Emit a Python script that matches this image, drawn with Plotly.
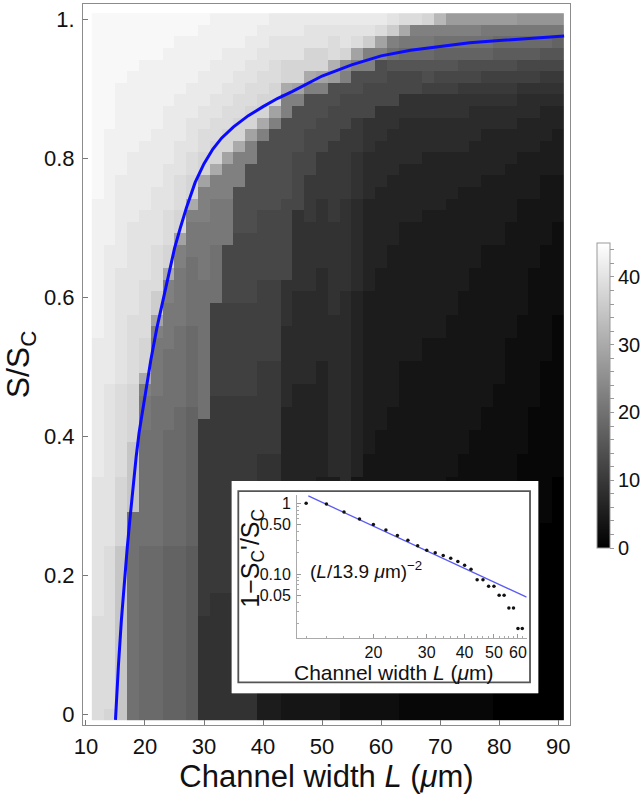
import plotly.graph_objects as go

# ---------------- data ----------------
L_COLS = [12, 14, 16, 18, 20, 22, 24, 26, 28, 30, 32, 34, 36, 38, 40, 42, 44, 46, 48, 50,
          52, 54, 56, 58, 60, 62, 64, 66, 68, 70, 72, 74, 76, 78, 80, 82, 84, 86, 88, 90]
S_ROWS = [k / 60 for k in range(61)]

# grey level codes (0 = black ... Z = near white), value = index * 1.25
LEVELS = "0123456789ABCDEFGHIJKLMNOPQRSTUVWXYZ"
LEVEL_STEP = 1.25

# one string per column (L = 12 ... 90); tokens "code:last_row" from bottom (row 0) to top (row 60)
COL_RUNS = [
    "V:8 W:20 X:32 Y:44 Z:60",
    "U:0 V:14 W:28 X:40 Y:50 Z:60",
    "S:14 U:20 V:28 W:38 X:46 Y:54 Z:60",
    "G:17 S:23 U:28 V:34 W:42 X:48 Y:55 Z:60",
    "F:14 G:24 H:27 I:28 O:29 U:32 V:37 W:43 X:49 Y:56 Z:60",
    "F:14 G:27 H:32 I:33 N:34 T:36 V:40 W:45 X:50 Y:56 Z:60",
    "E:14 F:24 G:31 H:35 I:37 O:38 U:40 V:43 W:47 X:52 Y:57 Z:60",
    "E:14 F:26 G:33 H:38 I:40 N:41 U:43 V:46 W:49 X:53 Y:58 Z:60",
    "D:14 E:26 F:33 G:39 H:42 I:43 O:44 U:46 V:48 W:51 X:54 Y:58 Z:60",
    "7:8 8:25 G:37 H:42 I:45 N:46 U:48 V:50 W:52 X:55 Y:59 Z:60",
    "7:10 8:27 9:35 G:40 H:44 I:46 O:47 U:49 V:51 W:53 X:56 Y:60",
    "7:10 8:27 9:35 A:40 H:44 I:47 N:48 U:50 V:52 W:54 X:57 Y:60",
    "7:11 8:27 9:35 A:41 B:45 I:48 O:49 U:51 V:53 W:55 X:57 Y:60",
    "7:12 8:27 9:35 A:41 B:47 I:49 N:50 U:52 V:54 W:56 X:58 Y:60",
    "4:12 7:22 8:30 9:37 A:43 B:49 I:50 O:51 U:53 V:55 W:57 X:59 Y:60",
    "4:12 7:22 8:30 9:37 A:43 B:50 I:51 N:52 U:54 V:56 W:58 X:60",
    "3:6 4:16 5:26 6:33 7:37 A:44 B:51 I:53 O:54 U:56 W:58 X:60",
    "3:8 4:18 5:28 6:36 7:43 A:48 B:52 I:53 N:54 U:56 W:58 X:60",
    "3:8 4:18 5:28 6:36 7:42 8:46 A:50 B:53 I:54 O:55 U:57 W:59 X:60",
    "3:10 4:20 5:30 6:38 7:44 8:48 A:51 B:53 I:54 N:55 U:57 W:59 X:60",
    "3:10 4:20 6:34 7:42 8:49 A:52 B:54 M:55 P:56 V:58 W:59 X:60",
    "2:8 3:18 6:36 7:44 8:50 A:53 B:54 I:55 K:56 U:57 W:59 X:60",
    "2:10 3:20 5:36 6:44 7:48 8:51 A:53 B:55 I:56 N:57 V:58 W:59 X:60",
    "2:10 3:22 4:36 5:44 6:48 7:51 A:54 B:55 I:57 T:58 W:59 X:60",
    "2:12 3:24 4:38 5:45 6:49 7:52 A:54 B:56 I:57 N:58 V:59 X:60",
    "2:12 3:26 4:40 5:46 6:50 7:52 A:55 C:56 G:57 I:58 T:59 W:60",
    "1:6 2:16 3:30 4:42 5:47 6:51 7:53 A:55 C:56 F:57 H:58 O:59 V:60",
    "1:6 2:16 3:30 4:42 5:47 6:51 7:53 A:55 C:56 F:57 H:58 I:59 V:60",
    "1:8 2:18 3:32 4:43 5:48 6:51 7:53 9:54 B:55 C:56 F:57 H:58 I:59 U:60",
    "1:8 2:18 3:32 4:43 5:48 6:51 7:53 9:54 A:55 C:56 E:57 G:58 I:59 Q:60",
    "1:10 2:20 3:34 4:44 5:48 6:51 7:53 9:54 A:55 C:56 E:57 G:58 I:59 M:60",
    "1:10 2:22 3:36 4:45 5:48 6:51 7:53 8:54 A:55 B:56 E:57 G:58 I:59 M:60",
    "1:12 2:24 3:38 4:45 5:49 6:52 7:53 8:54 A:55 B:56 E:57 G:58 I:59 M:60",
    "1:14 2:26 3:40 4:46 5:50 6:52 7:53 8:54 9:55 B:56 E:57 G:58 H:59 M:60",
    "0:4 1:16 2:28 3:40 4:46 5:50 6:52 7:53 8:54 9:55 B:56 D:57 F:58 H:59 M:60",
    "0:6 1:18 2:32 3:42 4:47 5:50 6:52 7:53 8:54 9:55 B:56 D:57 F:58 H:59 M:60",
    "0:8 1:22 2:34 3:44 4:48 5:51 6:53 7:54 9:55 A:56 D:57 F:58 H:59 L:60",
    "0:12 1:26 2:38 3:44 4:48 5:51 6:53 7:54 9:55 A:56 D:57 F:58 H:59 L:60",
    "0:16 1:30 2:40 3:46 4:49 5:52 6:53 7:54 8:55 A:56 C:57 F:58 H:59 L:60",
    "0:20 1:34 2:42 3:46 4:50 5:52 6:53 7:54 8:55 A:56 C:57 E:58 H:59 L:60",
]

# blue boundary curve
CURVE_L = [15.0, 15.2, 15.5, 16.0, 16.5, 17.0, 17.5, 18.0, 18.5, 19.0, 20.0, 21.0, 22.0,
           23.0, 24.0, 25.0, 26.0, 27.0, 28.5, 30.0, 31.5, 33.0, 35.0, 37.5, 40.0, 42.5,
           45.0, 50.0, 55.0, 60.0, 65.0, 70.0, 75.0, 80.0, 85.0, 91.0]
CURVE_S = [-0.008, 0.03, 0.07, 0.135, 0.19, 0.24, 0.285, 0.33, 0.37, 0.405, 0.46, 0.51,
           0.555, 0.595, 0.635, 0.67, 0.70, 0.728, 0.765, 0.792, 0.813, 0.829, 0.845,
           0.861, 0.874, 0.886, 0.896, 0.918, 0.934, 0.947, 0.955, 0.961, 0.966, 0.969,
           0.972, 0.9755]

# inset data
INSET_L = [12, 14, 16, 18, 20, 22, 24, 26, 28, 30, 32, 34, 36, 38, 40, 42, 44, 46, 48, 50,
           52, 54, 56, 58, 60, 62]
INSET_Y = [1.0, 0.98, 0.75, 0.60, 0.50, 0.42, 0.35, 0.30, 0.25, 0.217, 0.20, 0.183, 0.167,
           0.15, 0.133, 0.117, 0.083, 0.083, 0.067, 0.067, 0.05, 0.05, 0.033, 0.033,
           0.017, 0.017]
FIT_L = [12.2, 64.1]
FIT_Y = [1.27, 0.047]

X_TICKS = [10, 20, 30, 40, 50, 60, 70, 80, 90]
Y_TICKS = [0, 0.2, 0.4, 0.6, 0.8, 1.0]
Y_TICKTEXT = ["0", "0.2", "0.4", "0.6", "0.8", "1."]
CB_TICKS = list(range(0, 46, 2))
CB_TICKTEXT = [str(v) if v % 10 == 0 else " " for v in CB_TICKS]
INSET_XTICKS = [20, 30, 40, 50, 60]
INSET_XMINOR = [12, 14, 16, 18, 22, 24, 26, 28, 32, 34, 36, 38, 42, 44, 46, 48, 52, 54, 56, 58, 62, 64]
INSET_YTICKS = [1, 0.5, 0.1, 0.05]
INSET_YTICKTEXT = ["1", "0.50", "0.10", "0.05"]
INSET_YMINOR = [0.02, 0.03, 0.04, 0.06, 0.07, 0.08, 0.09, 0.2, 0.3, 0.4, 0.6, 0.7, 0.8, 0.9]


def decode(spec):
    col = []
    for tok in spec.split():
        ch, top = tok.split(":")
        top = int(top)
        while len(col) <= top:
            col.append(LEVELS.index(ch) * LEVEL_STEP)
    while len(col) < len(S_ROWS):
        col.append(col[-1])
    return col[:len(S_ROWS)]


cols = [decode(s) for s in COL_RUNS]
Z = [[cols[c][r] for c in range(len(L_COLS))] for r in range(len(S_ROWS))]

FONT = "Liberation Sans, Arial, sans-serif"

fig = go.Figure()

fig.add_trace(go.Heatmap(
    x=L_COLS, y=S_ROWS, z=Z, zmin=0, zmax=45,
    colorscale=[[0, "#000000"], [1, "#ffffff"]],
    colorbar=dict(
        x=1.0554, xanchor="left", xpad=0, ypad=0,
        y=0.457, yanchor="middle",
        thickness=13, thicknessmode="pixels",
        len=305, lenmode="pixels",
        outlinewidth=1, outlinecolor="#999999",
        tickmode="array", tickvals=CB_TICKS, ticktext=CB_TICKTEXT,
        ticks="outside", ticklen=4, tickcolor="#999999",
        tickfont=dict(size=20, color="#111111", family=FONT),
    ),
    hoverinfo="skip",
))

fig.add_trace(go.Scatter(
    x=CURVE_L, y=CURVE_S, mode="lines",
    line=dict(color="#0a0aff", width=3),
    showlegend=False, hoverinfo="skip",
))

# white backing of the inset
fig.add_trace(go.Scatter(
    x=[0, 1, 1, 0, 0], y=[0, 0, 1, 1, 0], mode="lines", fill="toself",
    fillcolor="white", line=dict(width=0, color="white"),
    xaxis="x2", yaxis="y2", showlegend=False, hoverinfo="skip",
))

# inset traces
fig.add_trace(go.Scatter(
    x=FIT_L, y=FIT_Y, mode="lines", line=dict(color="#5a5af5", width=1.3),
    xaxis="x3", yaxis="y3", showlegend=False, hoverinfo="skip",
))
fig.add_trace(go.Scatter(
    x=INSET_L, y=INSET_Y, mode="markers", marker=dict(color="#111111", size=3.5),
    xaxis="x3", yaxis="y3", showlegend=False, hoverinfo="skip",
))

fig.update_layout(
    width=644, height=806,
    margin=dict(l=83, r=74, t=4, b=81, autoexpand=False),
    paper_bgcolor="white", plot_bgcolor="white",
    showlegend=False,
    font=dict(family=FONT, color="#111111"),
    xaxis=dict(
        domain=[0, 1], range=[9.5, 92.0], tickmode="array", tickvals=X_TICKS,
        ticks="inside", ticklen=5, tickcolor="#777777",
        showline=True, linecolor="#8c8c8c", linewidth=1, mirror=True,
        showgrid=False, zeroline=False,
        tickfont=dict(size=22), ticklabelstandoff=2,
        title=dict(text="Channel width <i>L</i> (<i>μ</i>m)", font=dict(size=31), standoff=6),
    ),
    yaxis=dict(
        domain=[0, 1], range=[-0.0154, 1.0216], tickmode="array", tickvals=Y_TICKS,
        ticktext=Y_TICKTEXT, ticks="inside", ticklen=5, tickcolor="#777777",
        showline=True, linecolor="#8c8c8c", linewidth=1, mirror=True,
        showgrid=False, zeroline=False,
        tickfont=dict(size=22), ticklabelstandoff=3,
        title=dict(text="S/S<sub>C</sub>", font=dict(size=32), standoff=10),
    ),
    xaxis2=dict(domain=[0.3053, 0.9349], range=[0, 1], visible=False, anchor="y2"),
    yaxis2=dict(domain=[0.044, 0.3384], range=[0, 1], visible=False, anchor="x2"),
    xaxis3=dict(
        domain=[0.4394, 0.9111], type="log", range=[1.049, 1.807], anchor="y3",
        tickmode="array", tickvals=INSET_XTICKS, ticks="inside", ticklen=4,
        tickcolor="#999999",
        minor=dict(tickmode="array", tickvals=INSET_XMINOR, ticks="inside", ticklen=2,
                   tickcolor="#aaaaaa", showgrid=False),
        showline=True, linecolor="#aaaaaa", linewidth=1, mirror=False,
        showgrid=False, zeroline=False,
        tickfont=dict(size=16), ticklabelstandoff=0,
    ),
    yaxis3=dict(
        domain=[0.1211, 0.3190], type="log", range=[-1.90, 0.117], anchor="x3",
        tickmode="array", tickvals=INSET_YTICKS, ticktext=INSET_YTICKTEXT,
        ticks="inside", ticklen=4, tickcolor="#999999",
        minor=dict(tickmode="array", tickvals=INSET_YMINOR, ticks="inside", ticklen=2,
                   tickcolor="#aaaaaa", showgrid=False),
        showline=True, linecolor="#aaaaaa", linewidth=1, mirror=False,
        showgrid=False, zeroline=False,
        tickfont=dict(size=16), ticklabelstandoff=2,
    ),
    shapes=[
        dict(type="rect", xref="paper", yref="paper", x0=0.3189, x1=0.9179,
             y0=0.0592, y1=0.3245, line=dict(color="#555555", width=1.8),
             fillcolor="rgba(0,0,0,0)", layer="above"),
    ],
    annotations=[
        dict(text="(<i>L</i>/13.9 <i>μ</i>m)<sup>−2</sup>", xref="paper", yref="paper",
             x=0.462, y=0.215, xanchor="left", yanchor="middle", showarrow=False,
             font=dict(size=19, color="#111111", family=FONT)),
        dict(text="Channel width <i>L</i> (<i>μ</i>m)", xref="paper", yref="paper",
             x=0.6386, y=0.0735, xanchor="center", yanchor="middle", showarrow=False,
             font=dict(size=21, color="#111111", family=FONT)),
        dict(text="1−S<sub>C</sub>'/S<sub>C</sub>", xref="paper", yref="paper",
             x=0.3464, y=0.2316, xanchor="center", yanchor="middle", showarrow=False,
             textangle=-90, font=dict(size=25, color="#111111", family=FONT)),
    ],
)

fig.write_html("out.html", config={"displayModeBar": False},
               post_script="document.body.style.margin='0px';document.body.style.padding='0px';")
